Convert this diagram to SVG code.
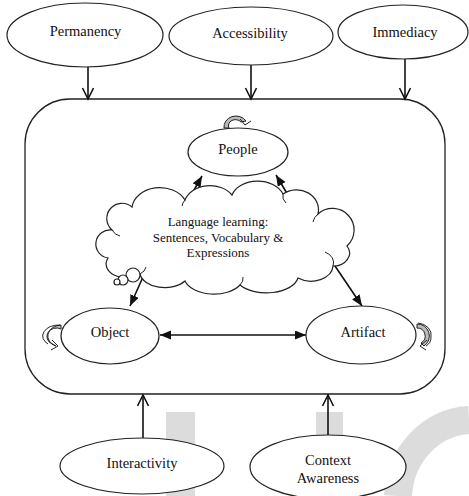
<svg xmlns="http://www.w3.org/2000/svg" width="469" height="496" viewBox="0 0 469 496">
<style>
.node{fill:#fff;stroke:#222;stroke-width:1.2}
text{font-family:'Liberation Serif','DejaVu Serif',serif;fill:#111;text-anchor:middle}
.t{font-size:14.5px}
.ct{font-size:13px}
.out{stroke:#111;stroke-width:1.6;fill:none;marker-end:url(#open)}
.in{stroke:#111;stroke-width:1.6;fill:none;marker-end:url(#solid)}
.loop{fill:#bbb;stroke:#222;stroke-width:1}
.wm{fill:#dcdcdc}
</style>
<defs>
<marker id="open" markerUnits="userSpaceOnUse" markerWidth="14" markerHeight="14" refX="12" refY="6" orient="auto">
<path d="M1,0.5 L12,6 L1,11.5" fill="none" stroke="#111" stroke-width="1.6"/>
</marker>
<marker id="solid" markerUnits="userSpaceOnUse" markerWidth="12" markerHeight="10" refX="11" refY="4.5" orient="auto-start-reverse">
<path d="M0,0 L11,4.5 L0,9 z" fill="#111"/>
</marker>
</defs>
<rect width="469" height="496" fill="#fff"/>
<g id="watermark">
<rect class="wm" x="166" y="412" width="29" height="84"/>
<rect class="wm" x="316" y="412" width="27" height="84"/>
<path d="M398,496 A75,80 0 0 1 469,420" fill="none" stroke="#dcdcdc" stroke-width="28"/>
</g>
<g id="frame">
<rect x="25" y="99" width="420" height="295" rx="45" ry="45" fill="none" stroke="#222" stroke-width="1.3"/>
</g>
<g id="connectors">
<line class="out" x1="88" y1="67" x2="88" y2="99"/>
<line class="out" x1="251" y1="65" x2="251" y2="99"/>
<line class="out" x1="405" y1="59" x2="405" y2="99"/>
<line class="out" x1="143" y1="438" x2="143" y2="395"/>
<line class="out" x1="328" y1="435" x2="328" y2="395"/>
<line class="in" x1="189" y1="199" x2="202" y2="176"/>
<line class="in" x1="288" y1="195" x2="276" y2="175"/>
<line class="in" x1="143" y1="277" x2="130" y2="306"/>
<line class="in" x1="333" y1="263" x2="362" y2="306"/>
<line class="in" x1="160" y1="335" x2="306" y2="335" style="marker-start:url(#solid)"/>
</g>
<g id="permanency"><ellipse class="node" cx="85" cy="35" rx="78" ry="32"/><text class="t" x="85.5" y="36" font-family="Liberation Serif">Permanency</text></g>
<g id="accessibility"><ellipse class="node" cx="251" cy="36" rx="82" ry="29"/><text class="t" x="250" y="38" font-family="Liberation Serif">Accessibility</text></g>
<g id="immediacy"><ellipse class="node" cx="403" cy="32" rx="65" ry="27"/><text class="t" x="405" y="37" font-family="Liberation Serif">Immediacy</text></g>
<g id="people">
<ellipse class="node" cx="238" cy="152" rx="50" ry="24"/>
<text class="t" x="238" y="154" font-family="Liberation Serif">People</text>
<path class="loop" d="M224,128 A12,11 0 0 1 246,121 L241,122 A7,6 0 0 0 229,128 Z"/>
<path d="M240,119 L245,125 L251,121" fill="none" stroke="#222" stroke-width="1"/>
</g>
<g id="cloud">
<path class="node" d="M112,230 A14,14 0 0 1 132,207 A28,22 0 0 1 185,200 A26,20 0 0 1 232,195 A27,20 0 0 1 283,194 A22,20 0 0 1 318,214 A18,18 0 0 1 347,246 A16,13 0 0 1 333,266 A22,16 0 0 1 298,278 A32,18 0 0 1 240,285 A30,18 0 0 1 185,281 A25,16 0 0 1 140,274 A20,14 0 0 1 108,258 A14,14 0 0 1 112,230 Z"/>
<path d="M185,200 A18,14 0 0 0 182,206 M283,194 A18,12 0 0 0 286,203 M318,214 A18,14 0 0 0 313,222 M333,266 A16,12 0 0 0 325,252 M240,285 A18,12 0 0 0 243,277 M140,274 A14,10 0 0 0 146,267 M112,230 A12,12 0 0 0 120,236" fill="none" stroke="#222" stroke-width="1"/>
<circle class="node" cx="133" cy="275" r="7"/>
<circle class="node" cx="123" cy="280" r="5"/>
<circle class="node" cx="117" cy="282" r="3"/>
<text class="ct" x="218" y="226" font-family="Liberation Serif">Language learning:</text>
<text class="ct" x="218" y="241.5" font-family="Liberation Serif">Sentences, Vocabulary &amp;</text>
<text class="ct" x="218" y="257" font-family="Liberation Serif">Expressions</text>
</g>
<g id="object">
<ellipse class="node" cx="110" cy="336" rx="49" ry="28"/>
<text class="t" x="110" y="337" font-family="Liberation Serif">Object</text>
<path class="loop" d="M61,325 A14,11 0 0 0 56,346 L52,344 A9,8 0 0 1 61,329 Z"/>
<path d="M60,325 A17,11 0 0 0 48,344" fill="none" stroke="#222" stroke-width="1"/>
<path d="M52,340 L58,346 L51,350" fill="none" stroke="#222" stroke-width="1"/>
</g>
<g id="artifact">
<ellipse class="node" cx="361" cy="335" rx="55" ry="29"/>
<text class="t" x="363" y="337" font-family="Liberation Serif">Artifact</text>
<path class="loop" d="M417,324 A12,12 0 0 1 424,346 L421,343 A8,8 0 0 0 417,328 Z"/>
<path d="M418,323 A15,12 0 0 1 431,337 A10,10 0 0 1 426,346" fill="none" stroke="#222" stroke-width="1"/>
<path d="M427,340 L420,346 L426,350" fill="none" stroke="#222" stroke-width="1"/>
</g>
<g id="interactivity"><ellipse class="node" cx="142" cy="466" rx="82" ry="28"/><text class="t" x="142" y="468" font-family="Liberation Serif">Interactivity</text></g>
<g id="context"><ellipse class="node" cx="328" cy="467" rx="78" ry="32"/><text class="t" x="328" y="465" font-family="Liberation Serif">Context</text><text class="t" x="328" y="483" font-family="Liberation Serif">Awareness</text></g>
</svg>
